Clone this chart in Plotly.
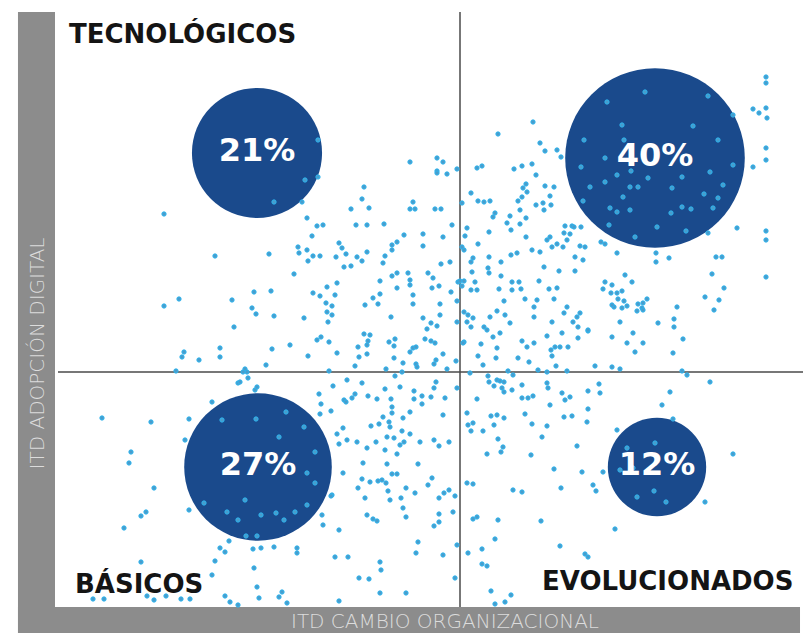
import plotly.graph_objects as go

# ---- axis extents (ITD index units) and quadrant cut points ----
X_RANGE = [0, 74.8]
Y_RANGE = [0, 59.5]
X_CUT = 40.5
Y_CUT = 23.5

# ---- quadrant summary bubbles ----
quad_names = ["TECNOLÓGICOS", "EXPERTOS", "BÁSICOS", "EVOLUCIONADOS"]
quad_pct = [21, 40, 27, 12]
quad_cx = [20.2, 60.0, 20.3, 60.2]
quad_cy = [45.4, 44.9, 14.0, 14.0]

# ---- individual companies (ITD cambio organizacional, ITD adopción digital) ----
dots_upper_left = [
    (10.9, 39.3), (16.0, 35.1), (12.4, 30.8), (10.9, 30.1), (17.7, 30.7), (17.9, 28.0),
    (12.9, 25.5), (12.7, 25.0), (14.4, 24.7), (16.5, 25.9), (16.5, 25.0), (12.1, 23.6),
    (21.4, 35.3), (19.9, 31.5), (21.6, 31.6), (19.7, 29.9),
    (26.3, 46.7), (25.0, 42.7), (26.3, 43.0), (21.9, 40.5), (24.7, 40.5),
    (35.5, 44.5), (38.2, 44.9), (38.8, 44.5), (38.2, 43.6), (38.2, 43.4), (39.2, 43.3),
    (40.2, 43.8), (30.9, 42.0), (30.7, 40.8), (35.8, 40.5), (35.5, 39.8), (36.0, 39.8),
    (38.0, 39.8), (38.6, 39.8), (29.6, 39.8), (31.4, 39.9), (25.2, 38.9), (26.2, 38.1),
    (26.8, 38.2), (30.1, 38.2), (31.2, 38.2), (32.9, 38.3), (39.7, 38.2), (25.7, 37.1),
    (34.9, 37.2), (36.8, 37.3), (38.8, 37.0), (34.2, 36.5), (33.7, 36.2), (36.8, 36.1),
    (28.4, 36.4), (28.7, 35.9), (24.3, 36.0), (24.4, 35.4), (25.2, 35.7), (25.8, 35.1),
    (26.5, 35.1), (25.3, 34.6), (28.1, 35.0), (29.1, 35.3), (30.2, 35.0), (30.7, 34.6),
    (31.2, 35.5), (33.7, 35.7), (33.0, 35.1), (32.8, 34.4), (28.9, 34.0), (29.6, 34.1),
    (23.9, 33.3), (38.6, 34.3), (39.5, 34.5), (40.9, 35.7), (33.7, 33.1), (34.2, 33.4),
    (35.3, 33.4), (35.5, 32.7), (35.5, 32.2), (37.3, 33.4), (37.8, 32.9), (32.5, 32.6),
    (28.2, 32.4), (27.2, 32.0), (34.2, 31.9), (25.8, 31.4), (26.5, 31.1), (28.0, 31.2),
    (35.8, 31.2), (37.7, 31.9), (38.4, 32.1), (39.6, 31.5), (40.3, 32.5), (40.7, 32.1),
    (32.5, 31.3), (31.8, 30.9), (32.3, 30.3), (31.0, 30.2), (27.1, 30.4), (27.7, 30.1),
    (35.8, 30.3), (38.5, 30.3), (40.2, 30.6), (20.1, 29.3), (21.9, 29.1), (24.9, 28.9),
    (27.2, 29.5), (27.7, 29.2), (27.3, 28.5), (33.6, 29.0), (36.8, 28.9), (37.6, 28.4),
    (38.2, 28.1), (38.5, 29.2), (37.2, 27.8), (40.2, 28.5), (40.9, 29.5), (21.7, 25.8),
    (23.5, 26.2), (25.3, 25.1), (26.2, 26.7), (26.6, 27.0), (27.4, 26.5), (28.2, 25.4),
    (30.9, 27.3), (31.5, 27.2), (31.3, 26.6), (31.2, 26.2), (30.3, 26.0), (30.4, 25.0),
    (31.2, 25.3), (30.0, 24.1), (33.4, 26.5), (34.0, 26.8), (33.9, 26.1), (33.9, 24.9),
    (34.8, 24.4), (35.5, 25.5), (35.8, 25.9), (36.1, 26.0), (37.0, 26.8), (37.6, 26.6),
    (38.0, 26.4), (38.8, 25.3), (38.1, 24.7), (37.9, 24.3), (36.1, 24.3), (36.2, 24.0),
    (33.1, 23.8), (39.2, 23.8), (40.1, 24.6), (40.9, 26.5), (21.1, 24.2), (19.0, 23.8),
    (27.4, 23.6),
]

dots_upper_right = [
    (47.8, 48.5), (44.3, 47.3), (48.5, 46.4), (49.0, 45.6), (50.2, 45.7), (50.6, 45.0),
    (42.2, 43.9), (42.7, 44.1), (45.9, 43.8), (46.7, 44.1), (47.7, 44.3), (48.1, 43.2),
    (47.1, 42.3), (46.8, 41.9), (47.2, 41.5), (46.7, 41.0), (49.0, 42.1), (49.9, 42.0),
    (41.6, 41.4), (49.5, 41.1), (42.3, 40.6), (42.9, 40.5), (43.5, 40.6), (46.3, 40.6),
    (48.1, 40.2), (48.8, 40.4), (49.6, 40.2), (48.9, 39.7), (40.7, 40.4), (44.0, 39.4),
    (43.8, 39.0), (45.5, 39.1), (46.5, 39.7), (45.2, 38.4), (47.1, 38.9), (46.5, 38.3),
    (45.6, 37.7), (43.4, 37.5), (41.2, 37.9), (41.0, 37.1), (51.0, 38.1), (51.7, 38.1),
    (51.9, 38.0), (52.6, 38.0), (50.9, 37.4), (51.5, 37.3), (51.2, 36.7), (47.1, 37.0),
    (49.2, 36.7), (49.5, 37.0), (49.7, 36.0), (50.2, 36.3), (50.8, 36.0), (42.3, 36.3),
    (40.7, 36.0), (54.6, 36.5), (55.0, 36.3), (47.7, 35.7), (48.5, 35.5), (46.2, 35.4),
    (45.6, 35.2), (52.5, 36.1), (53.0, 36.0), (52.0, 35.0), (52.8, 34.7), (43.4, 35.0),
    (41.8, 34.9), (41.6, 34.5), (44.6, 34.5), (56.2, 35.4), (43.3, 33.9), (43.4, 33.4),
    (41.7, 33.5), (48.9, 34.0), (50.4, 33.6), (52.0, 33.6), (44.6, 33.1), (42.0, 32.5),
    (40.5, 32.6), (40.9, 32.6), (45.7, 32.5), (46.4, 32.5), (48.4, 32.6), (55.0, 32.5),
    (55.7, 32.2), (57.0, 33.2), (57.7, 32.5), (41.6, 31.7), (42.2, 31.7), (44.4, 31.8),
    (45.7, 31.7), (46.6, 31.8), (49.4, 31.8), (50.2, 31.9), (54.8, 31.8), (55.6, 31.4),
    (56.2, 31.4), (56.7, 31.6), (56.3, 30.8), (56.9, 30.6), (55.9, 30.0), (56.7, 29.9),
    (57.2, 30.1), (55.7, 30.2), (58.3, 30.3), (58.8, 30.4), (59.2, 30.8), (58.2, 29.6),
    (58.7, 29.9), (47.0, 30.8), (48.2, 30.7), (49.9, 30.8), (44.9, 30.6), (44.2, 29.6),
    (41.3, 29.2), (41.8, 28.9), (43.5, 29.0), (45.0, 29.2), (47.9, 30.0), (47.9, 29.0),
    (51.2, 30.0), (50.9, 29.4), (52.5, 29.4), (52.2, 29.0), (49.7, 28.5), (45.5, 28.4),
    (56.5, 28.5), (41.2, 28.5), (41.6, 28.0), (42.9, 28.0), (43.2, 27.7), (44.5, 27.4),
    (43.8, 27.0), (51.8, 28.5), (52.3, 28.0), (53.3, 27.6), (50.7, 27.4), (49.2, 27.1),
    (47.9, 26.4), (46.7, 26.6), (47.2, 26.0), (40.8, 26.4), (42.6, 26.3), (44.2, 25.9),
    (42.3, 25.1), (42.8, 24.2), (44.1, 24.9), (46.3, 24.9), (47.4, 24.5), (49.6, 25.7),
    (50.0, 26.0), (50.5, 26.0), (51.3, 26.0), (49.7, 25.1), (50.1, 24.1), (52.3, 26.9),
    (55.7, 27.0), (57.2, 26.4), (58.0, 25.5), (58.8, 26.4), (54.0, 24.1), (55.7, 24.0),
    (56.5, 23.8), (48.3, 23.7), (49.2, 23.5), (51.2, 23.6), (41.5, 23.4), (43.3, 23.1),
    (45.3, 23.6), (45.8, 23.2), (57.8, 27.4), (53.3, 27.7),
    (59.0, 51.5), (55.2, 50.5), (56.7, 48.2), (56.9, 46.7), (52.9, 46.7), (55.0, 44.9),
    (52.6, 44.0), (56.2, 43.2), (57.6, 43.6), (55.0, 42.5), (53.5, 42.0), (57.5, 42.0),
    (58.3, 42.0), (59.3, 42.9), (56.8, 41.0), (52.8, 40.6), (55.5, 39.9), (56.2, 39.5),
    (57.5, 39.7), (55.4, 38.2), (58.0, 37.0),
    (65.3, 51.1), (63.8, 48.1), (66.3, 46.7), (67.8, 49.2), (65.5, 43.5), (67.8, 44.2),
    (61.7, 41.9), (62.7, 43.0), (64.9, 41.3), (66.8, 42.2), (66.3, 40.9), (62.7, 40.0),
    (63.6, 39.8), (65.8, 39.9), (61.6, 39.4), (60.2, 38.0), (63.1, 37.6), (65.3, 37.4),
    (68.2, 37.9), (69.8, 44.0), (71.1, 53.0), (71.1, 52.4), (69.8, 49.8), (70.4, 49.4),
    (71.1, 49.9), (71.2, 48.9), (71.1, 45.9), (71.1, 44.7), (71.1, 37.6), (71.1, 36.7),
    (71.1, 33.0), (60.1, 35.4), (60.1, 34.5), (61.4, 34.9), (66.1, 35.0), (66.7, 35.0),
    (65.7, 33.3), (66.9, 31.9), (65.0, 31.0), (66.4, 30.7), (65.9, 29.7), (58.8, 29.7),
    (62.2, 30.0), (61.9, 28.8), (61.9, 28.0), (60.3, 28.4), (62.8, 26.8), (61.8, 25.4),
    (62.7, 23.6), (63.2, 23.2),
]

dots_lower_left = [
    (18.3, 22.4), (4.7, 18.9), (9.6, 18.5), (13.4, 18.8), (15.7, 20.5), (7.6, 15.5),
    (7.4, 14.4), (13.0, 16.7), (9.9, 11.9), (8.6, 9.1), (9.1, 9.5), (13.4, 9.7),
    (6.9, 7.9), (8.6, 4.5), (16.5, 5.9), (17.0, 5.5), (17.4, 6.6), (16.0, 4.6),
    (15.7, 3.2), (3.8, 0.8), (4.9, 0.8), (9.2, 1.1), (9.9, 0.7), (11.1, 1.1),
    (12.6, 0.8), (13.5, 0.8), (17.0, 1.1), (17.5, 0.5), (18.3, 0.2),
    (16.7, 18.7), (20.1, 18.8), (23.1, 19.5), (24.9, 18.0), (22.4, 17.0), (26.0, 15.5),
    (25.2, 13.4), (26.0, 12.4), (14.9, 10.4), (19.0, 10.7), (17.2, 9.5), (18.3, 8.7),
    (20.6, 9.2), (22.1, 9.4), (22.9, 8.7), (24.0, 9.5), (25.2, 10.2), (19.1, 7.1),
    (20.2, 7.1),
    (26.7, 9.2), (26.8, 8.2), (28.4, 7.7), (27.7, 11.2), (19.8, 5.8), (20.6, 5.9),
    (21.9, 6.0), (24.2, 5.9), (24.2, 5.4), (28.0, 5.0), (29.3, 5.0), (19.9, 3.9),
    (20.2, 2.0), (20.4, 0.9), (22.7, 1.5), (22.4, 1.0), (30.4, 2.9), (31.4, 2.8),
    (32.5, 4.5), (32.6, 3.7), (32.5, 1.4), (18.5, 22.5), (20.0, 21.7), (20.2, 22.0),
    (19.2, 23.5), (19.3, 22.9),
    (29.2, 22.7), (27.8, 22.1), (30.7, 22.4), (26.4, 21.3), (26.6, 20.3), (26.5, 19.3),
    (27.6, 19.6), (28.9, 20.7), (29.1, 20.5), (29.7, 20.9), (30.0, 21.3), (31.3, 21.1),
    (32.2, 20.8), (33.0, 21.8), (34.0, 23.1), (34.5, 22.0), (33.6, 20.8), (33.7, 20.0),
    (33.7, 19.4), (32.8, 19.0), (32.4, 18.3), (31.6, 18.1), (33.4, 18.5), (33.5, 18.0),
    (34.8, 18.9), (35.5, 19.5), (34.7, 17.6), (35.5, 17.3), (35.9, 21.6), (35.9, 20.8),
    (36.7, 21.1), (36.7, 20.3), (37.6, 21.0), (37.9, 21.9), (38.1, 22.5), (39.0, 20.9),
    (38.8, 19.2), (28.2, 17.3), (28.8, 17.9), (28.4, 16.3), (29.2, 16.7), (30.2, 16.5),
    (31.2, 15.9), (32.1, 16.5), (33.2, 17.0), (33.9, 16.9), (33.0, 15.7), (34.2, 15.3),
    (34.5, 16.2), (34.9, 16.5), (36.5, 16.5), (37.9, 16.7), (38.4, 16.1), (39.4, 16.5),
    (30.8, 14.4), (33.2, 14.3), (36.3, 14.3), (28.8, 13.4), (33.7, 13.3), (34.2, 13.3),
    (30.7, 12.8), (31.5, 12.5), (32.3, 12.6), (32.7, 12.7), (33.1, 12.4), (30.3, 11.9),
    (33.3, 11.6), (35.1, 11.9), (36.0, 11.4), (31.0, 10.9), (33.5, 10.7), (34.6, 10.9),
    (37.7, 12.9), (37.3, 12.2), (38.4, 10.9), (38.9, 11.4), (39.4, 11.7), (40.0, 11.1),
    (39.8, 9.5), (38.4, 9.3), (38.4, 8.5), (37.9, 8.1), (34.8, 9.9), (35.1, 9.0),
    (31.2, 9.2), (31.8, 8.8), (32.2, 8.6), (27.6, 11.1), (36.3, 6.5), (36.1, 5.4),
    (38.8, 5.2), (40.2, 6.2), (35.1, 1.4), (28.4, 0.6), (40.0, 2.9), (40.2, 21.9),
    (23.2, 0.4), (34.7, 23.5), (18.8, 23.5),
]

dots_lower_right = [
    (43.4, 22.5), (44.2, 22.7), (44.5, 22.6), (44.9, 22.5), (44.7, 21.9), (43.9, 22.1),
    (44.9, 21.5), (45.7, 21.7), (46.7, 22.2), (42.2, 20.8), (46.7, 20.9), (47.3, 20.9),
    (47.8, 21.1), (49.2, 22.4), (49.3, 21.9), (50.7, 21.4), (51.0, 20.7), (51.5, 21.0),
    (49.5, 20.2), (53.3, 21.6), (54.4, 22.3), (54.5, 21.4), (53.3, 19.8), (53.2, 18.5),
    (41.2, 19.4), (43.6, 19.1), (44.2, 19.2), (44.9, 18.9), (47.0, 19.3), (50.9, 19.0),
    (51.7, 19.1), (41.3, 18.2), (41.8, 18.4), (41.6, 17.6), (42.8, 17.6), (43.9, 18.2),
    (47.7, 18.3), (49.2, 18.1), (56.2, 17.7), (44.3, 16.8), (48.7, 17.0), (44.8, 16.0),
    (44.6, 15.5), (43.2, 15.3), (47.6, 15.2), (52.2, 16.1), (49.9, 13.8), (52.7, 13.5),
    (54.8, 13.5), (41.2, 12.4), (41.8, 12.3), (45.8, 11.7), (46.7, 11.5), (50.6, 11.9),
    (53.8, 12.2), (54.1, 11.6), (41.8, 8.8), (42.2, 9.0), (44.3, 8.7), (48.6, 8.6),
    (56.0, 7.8), (44.0, 6.8), (41.3, 5.4), (42.7, 5.8), (50.5, 6.1), (53.0, 5.3),
    (53.3, 5.0), (42.7, 4.3), (43.2, 4.1), (43.6, 1.6), (45.6, 1.2), (45.0, 0.5),
    (44.0, 0.3),
    (57.2, 15.9), (60.0, 16.4), (57.8, 13.9), (56.5, 13.7), (59.9, 11.6), (58.2, 11.0),
    (61.1, 10.5), (65.5, 22.5), (61.5, 21.5), (60.7, 20.2), (61.8, 18.8), (67.8, 15.3),
    (65.0, 10.5),
]

all_dots = dots_upper_left + dots_upper_right + dots_lower_left + dots_lower_right
dot_x = [p[0] for p in all_dots]
dot_y = [p[1] for p in all_dots]

NAVY = "#1a4a8c"
DOT = "#2db4ee"
BAND = "#8c8c8c"
LINE = "#4a4a4a"

fig = go.Figure()

# bubbles: diameter proportional to sqrt(percentage) (area-proportional)
fig.add_trace(go.Scatter(
    x=quad_cx, y=quad_cy, mode="markers",
    marker=dict(size=[28.4 * (p ** 0.5) for p in quad_pct], sizemode="diameter",
                color=NAVY, line=dict(width=0), opacity=1),
    hoverinfo="skip", showlegend=False, cliponaxis=False,
))

# individual dots
fig.add_trace(go.Scatter(
    x=dot_x, y=dot_y, mode="markers",
    marker=dict(size=4.3, color="#4a9ccb", line=dict(color=DOT, width=1)),
    hoverinfo="skip", showlegend=False, cliponaxis=False,
))

# percentages
fig.add_trace(go.Scatter(
    x=quad_cx, y=quad_cy, mode="text",
    text=[f"{p}%" for p in quad_pct],
    textfont=dict(family="DejaVu Sans", size=32, color="white", weight="bold"),
    textposition="middle center", hoverinfo="skip", showlegend=False, cliponaxis=False,
))

# quadrant divider lines
fig.add_shape(type="line", xref="x", yref="y", x0=X_CUT, x1=X_CUT, y0=Y_RANGE[0], y1=Y_RANGE[1],
              line=dict(color=LINE, width=1.5), layer="below")
fig.add_shape(type="line", xref="x", yref="y", x0=0.3, x1=X_RANGE[1], y0=Y_CUT, y1=Y_CUT,
              line=dict(color=LINE, width=1.5), layer="below")

# gray axis bands
fig.add_shape(type="rect", xref="paper", yref="paper", x0=-0.0495, x1=0, y0=-0.0437, y1=1,
              fillcolor=BAND, line=dict(width=0), layer="below")
fig.add_shape(type="rect", xref="paper", yref="paper", x0=-0.0495, x1=0.996, y0=-0.0437, y1=0,
              fillcolor=BAND, line=dict(width=0), layer="below")

label_font = dict(family="DejaVu Sans", size=26, color="#141414", weight="bold")
fig.add_annotation(x=1.2, y=57.4, xref="x", yref="y", text=quad_names[0], showarrow=False,
                   xanchor="left", yanchor="middle", font=label_font)
fig.add_annotation(x=X_RANGE[1] + 0.3, y=57.4, xref="x", yref="y", text=quad_names[1], showarrow=False,
                   xanchor="right", yanchor="middle", font=label_font)
fig.add_annotation(x=1.8, y=2.4, xref="x", yref="y", text=quad_names[2], showarrow=False,
                   xanchor="left", yanchor="middle", font=label_font)
fig.add_annotation(x=74.0, y=2.6, xref="x", yref="y", text=quad_names[3], showarrow=False,
                   xanchor="right", yanchor="middle", font=label_font)

axis_font = dict(family="DejaVu Sans", size=20, color="#dcdcdc", weight=200)
fig.add_annotation(x=-0.0248, y=0.427, xref="paper", yref="paper", text="ITD ADOPCIÓN DIGITAL",
                   showarrow=False, textangle=-90, font=axis_font, xanchor="center", yanchor="middle")
fig.add_annotation(x=0.521, y=-0.0235, xref="paper", yref="paper", text="ITD CAMBIO ORGANIZACIONAL",
                   showarrow=False, font=axis_font, xanchor="center", yanchor="middle")

fig.update_xaxes(range=X_RANGE, visible=False, fixedrange=True)
fig.update_yaxes(range=Y_RANGE, visible=False, fixedrange=True)
fig.update_layout(
    width=803, height=633,
    margin=dict(l=55, r=0, t=12, b=26),
    paper_bgcolor="white", plot_bgcolor="white",
    showlegend=False,
)

fig.write_html("out.html", config={"displayModeBar": False},
               post_script="document.body.style.margin='0';document.body.style.padding='0';")
